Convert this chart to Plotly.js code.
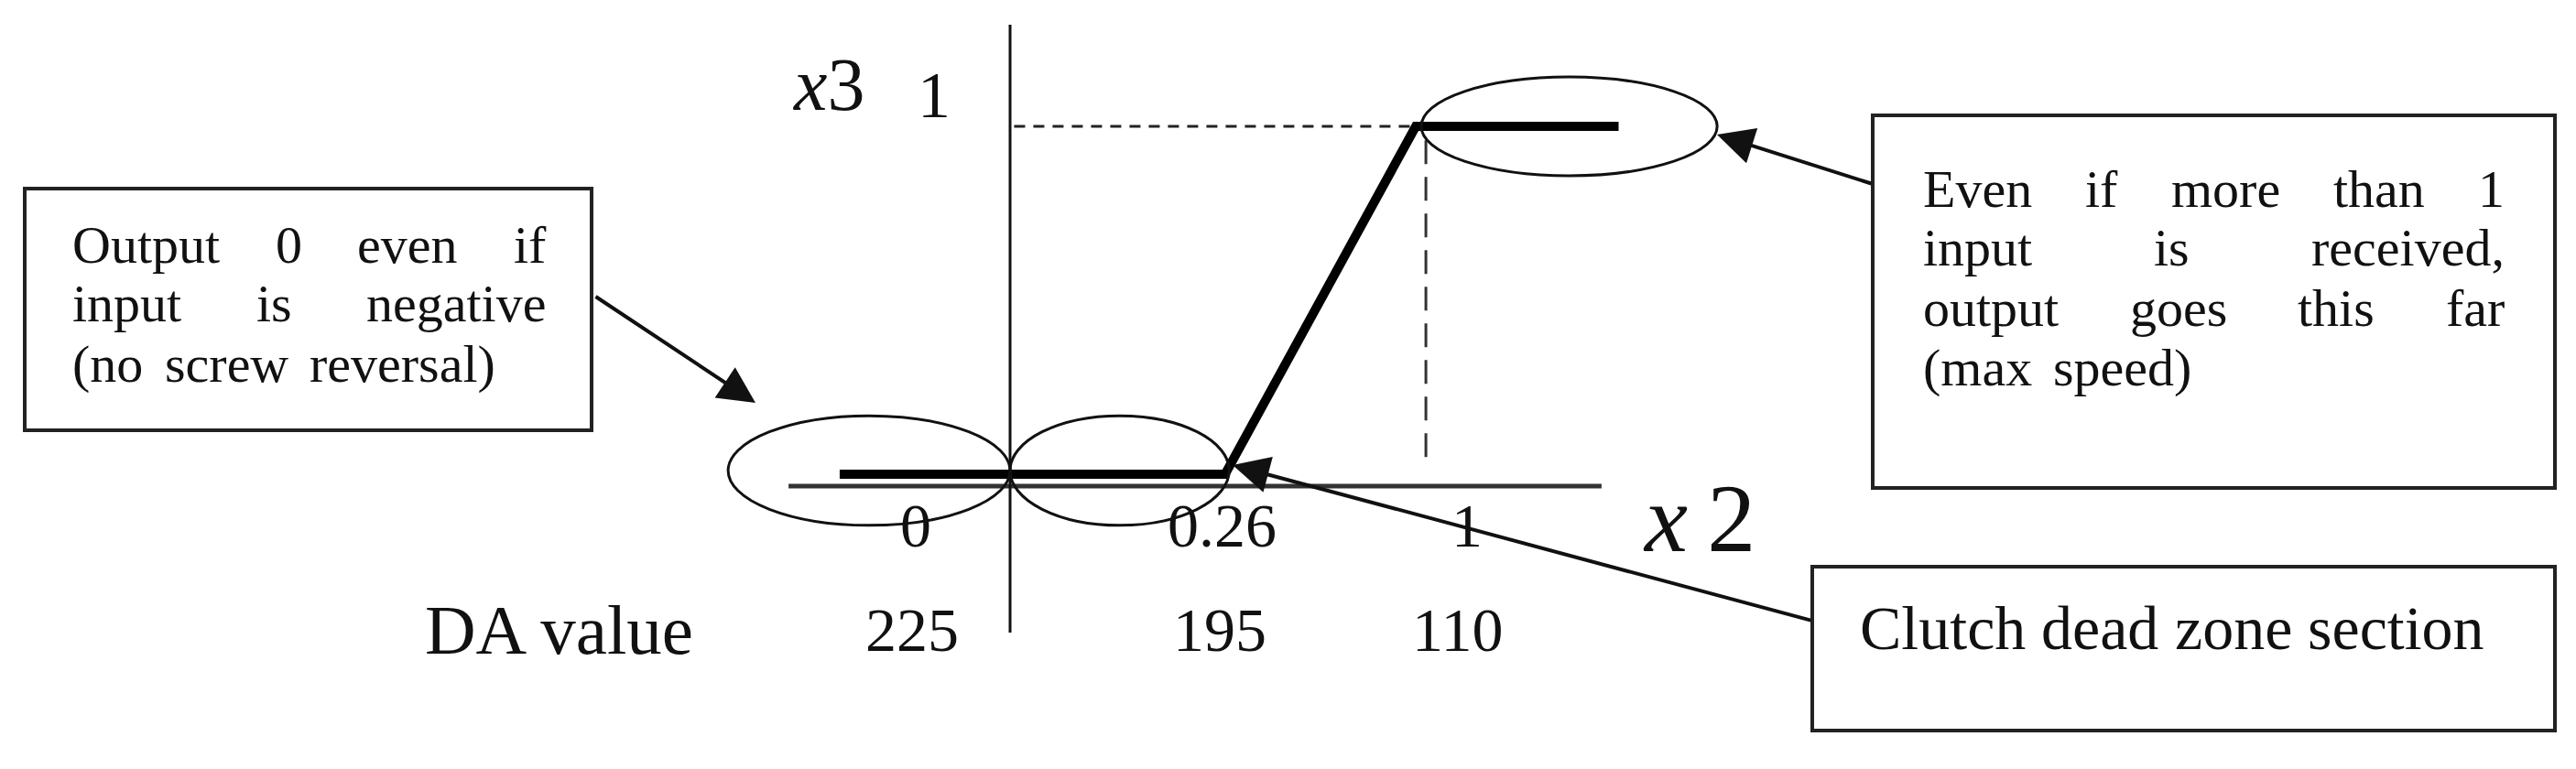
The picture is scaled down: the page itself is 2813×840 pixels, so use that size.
<!DOCTYPE html>
<html>
<head>
<meta charset="utf-8">
<script src="https://cdn.plot.ly/plotly-3.0.1.min.js"></script>
<style>html,body{margin:0;padding:0;background:#fff;}#chart{width:2813px;height:840px;}</style>
</head>
<body>
<div id="chart"></div>
<script>
// ---- data (schematic values as drawn) ----
const x2Curve = [-0.42, 0.53, 1.0, 1.5];   // x2 positions of the output curve as drawn
const x3Curve = [0, 0, 1, 1];              // x3 output
const x2TickLabels = ['0', '0.26', '1'];
const daValues = ['225', '195', '110'];
const yTickLabel = '1';
const leftNote = ['Output 0 even if', 'input is negative', '(no screw reversal)'];
const rightNote = ['Even if more than 1', 'input is received,', 'output goes this far', '(max speed)'];
const bottomNote = 'Clutch dead zone section';

// ---- layout helpers ----
const W = 2813, H = 840;
const px = v => v / W;
const py = v => 1 - v / H;
const FAMILY = 'Liberation Serif';
const FONT = 'Liberation Serif, Times New Roman, serif';
const ctx = document.createElement('canvas').getContext('2d');

// axis mapping: x pixel = 1103 + 443*x ; y pixel = 518 - 380*y
const xr = [-1103 / 443, (W - 1103) / 443];
const yr = [-(H - 518) / 380, 518 / 380];

const traces = [
  {x: [-0.546, 1.458], y: [-0.034, -0.034], mode: 'lines', line: {color: '#333', width: 5}, hoverinfo: 'skip'},
  {x: [0, 0], y: [1.292, -0.455], mode: 'lines', line: {color: '#111', width: 3}, hoverinfo: 'skip'},
  {x: [0.01, 1.0], y: [1, 1], mode: 'lines', line: {color: '#222', width: 3, dash: '12px,9px'}, hoverinfo: 'skip'},
  {x: [1.025, 1.025], y: [0.96, 0.04], mode: 'lines', line: {color: '#333', width: 3, dash: '26px,14px'}, hoverinfo: 'skip'},
  {x: x2Curve, y: x3Curve, mode: 'lines', line: {color: '#000', width: 10}, hoverinfo: 'skip'}
];

const shapes = [
  {type: 'circle', xref: 'x', yref: 'y', x0: -0.695, x1: 0.0, y0: -0.147, y1: 0.168, line: {color: '#111', width: 3}},
  {type: 'circle', xref: 'x', yref: 'y', x0: 0.0, x1: 0.54, y0: -0.147, y1: 0.168, line: {color: '#111', width: 3}},
  {type: 'circle', xref: 'x', yref: 'y', x0: 1.0135, x1: 1.743, y0: 0.858, y1: 1.142, line: {color: '#111', width: 3}},
  {type: 'rect', xref: 'paper', yref: 'paper', x0: px(27), x1: px(646), y0: py(470), y1: py(206), line: {color: '#222', width: 4}},
  {type: 'rect', xref: 'paper', yref: 'paper', x0: px(2045), x1: px(2790), y0: py(533), y1: py(126), line: {color: '#222', width: 4}},
  {type: 'rect', xref: 'paper', yref: 'paper', x0: px(1979), x1: px(2790), y0: py(798), y1: py(619), line: {color: '#222', width: 4}}
];

const annotations = [];
function txt(t, x, y, size, anchor) {
  annotations.push({text: t, x: px(x), y: py(y), xref: 'paper', yref: 'paper',
    showarrow: false, xanchor: anchor || 'center', yanchor: 'middle', borderpad: 0,
    font: {family: FONT, size: size, color: '#111'}});
}
// justified paragraph: every line but the last spans [left, left+width]
function paragraph(lines, left, width, tops, size) {
  ctx.font = size + 'px "' + FAMILY + '"';
  const sp = ctx.measureText(' ').width * 1.6;
  lines.forEach((line, i) => {
    const words = line.split(' ');
    const ws = words.map(w => ctx.measureText(w).width);
    const total = ws.reduce((a, b) => a + b, 0);
    const gap = (i === lines.length - 1) ? sp : (width - total) / (words.length - 1);
    let x = left;
    words.forEach((w, k) => { txt(w, x, tops[i], size, 'left'); x += ws[k] + gap; });
  });
}

txt('<i>x</i>3', 905, 92, 82);
txt(yTickLabel, 1020, 104, 72);
txt('<i>x</i>\u20092', 1855, 566, 106);
const tickX = [1000, 1334, 1602];
x2TickLabels.forEach((t, i) => txt(t, tickX[i], 574, 68));
txt('DA value', 463, 688, 77, 'left');
const daX = [996, 1332, 1591];
daValues.forEach((t, i) => txt(t, daX[i], 688, 68));

paragraph(leftNote, 78, 517, [267, 332, 397], 58);
paragraph(rightNote, 2099, 635, [206, 271, 336, 401], 58);
const bw = bottomNote.split(' ');
ctx.font = '68px "' + FAMILY + '"';
{
  let x = 2030;
  const sp = ctx.measureText(' ').width;
  bw.forEach(w => { txt(w, x, 686, 68, 'left'); x += ctx.measureText(w).width + sp; });
}

function arrow(tailX, tailY, tipX, tipY) {
  annotations.push({text: '', x: px(tipX), y: py(tipY), xref: 'paper', yref: 'paper',
    ax: tailX - tipX, ay: tailY - tipY, showarrow: true, arrowhead: 2, arrowsize: 2.0,
    arrowwidth: 4, arrowcolor: '#111', standoff: 0, startstandoff: 0});
}
arrow(649, 323, 825, 440);
arrow(2045, 201, 1875, 147);
arrow(1979, 678, 1346, 508);

const layout = {
  width: W, height: H, margin: {l: 0, r: 0, t: 0, b: 0},
  paper_bgcolor: '#fff', plot_bgcolor: '#fff', showlegend: false,
  xaxis: {range: xr, visible: false, fixedrange: true},
  yaxis: {range: yr, visible: false, fixedrange: true},
  shapes: shapes, annotations: annotations
};
Plotly.newPlot('chart', traces, layout, {displayModeBar: false, staticPlot: true});
</script>
</body>
</html>
